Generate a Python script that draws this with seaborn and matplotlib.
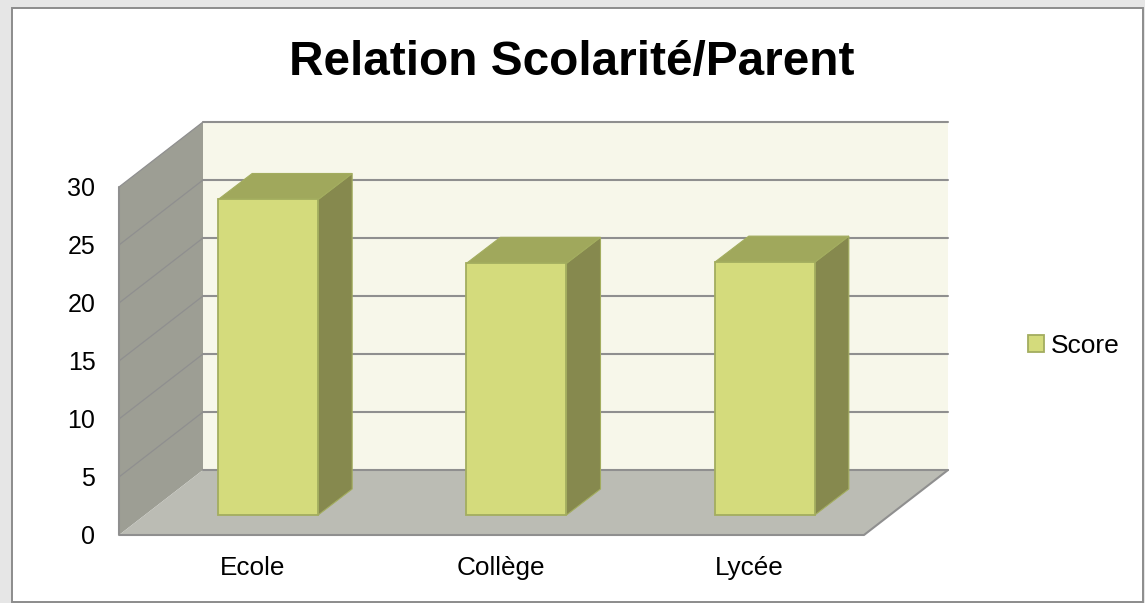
import matplotlib
matplotlib.use("Agg")
import matplotlib.pyplot as plt
import matplotlib.transforms as mtrans
from matplotlib.patches import Rectangle
import pandas as pd
import seaborn as sns

categories = ["Ecole", "Collège", "Lycée"]
scores = [27.2, 21.7, 21.8]
y_ticks = [0, 5, 10, 15, 20, 25, 30]
series_name = "Score"
title_text = "Relation Scolarité/Parent"

W, H, DPI = 1145, 603, 100
AX_L, AX_R, AX_T, AX_B = 119, 864, 187, 535
sns.set_style("white")
plt.rcParams["font.family"] = ["Liberation Sans", "DejaVu Sans"]

fig = plt.figure(figsize=(W / DPI, H / DPI), dpi=DPI, facecolor="#e6e6e6")
fig.add_artist(Rectangle((12 / W, 1 - 602 / H), (1143 - 12) / W, (602 - 8) / H,
                         transform=fig.transFigure, facecolor="white",
                         edgecolor="#8c8c8c", linewidth=1.4, zorder=-1))
ax = fig.add_axes([AX_L / W, 1 - AX_B / H, (AX_R - AX_L) / W, (AX_B - AX_T) / H])
ax.set_facecolor("none")

px_x = 3 / (AX_R - AX_L)          # data units per pixel, horizontally
px_y = 30 / (AX_B - AX_T)         # data units per pixel, vertically
wall_dx, wall_dy = 84 * px_x, 65 * px_y
bar_dx, bar_dy = 34 * px_x, 26 * px_y
shift_x, shift_y = 25 * px_x, 20 * px_y
x0, x1, y0, y1 = -0.5, 2.5, 0, 30

WALL_BACK, WALL_LEFT, FLOOR = "#f7f7ea", "#9d9e94", "#bbbcb4"
LINE = "#8f8f8f"
FRONT, TOP, SIDE, EDGE = "#d4db7c", "#a0a85c", "#86894e", "#a3ad5f"

# walls and floor
ax.fill([x0 + wall_dx, x1 + wall_dx, x1 + wall_dx, x0 + wall_dx],
        [y0 + wall_dy, y0 + wall_dy, y1 + wall_dy, y1 + wall_dy],
        color=WALL_BACK, lw=0, clip_on=False, zorder=1)
ax.fill([x0, x0 + wall_dx, x0 + wall_dx, x0],
        [y0, y0 + wall_dy, y1 + wall_dy, y1],
        color=WALL_LEFT, lw=0, clip_on=False, zorder=1)
for t in y_ticks[1:]:
    ax.plot([x0, x0 + wall_dx], [t, t + wall_dy], color=LINE, lw=0.9,
            clip_on=False, zorder=2)
    ax.plot([x0 + wall_dx, x1 + wall_dx], [t + wall_dy, t + wall_dy], color=LINE,
            lw=1.5, clip_on=False, zorder=2)
ax.fill([x0, x1, x1 + wall_dx, x0 + wall_dx],
        [y0, y0, y0 + wall_dy, y0 + wall_dy],
        color=FLOOR, lw=0, clip_on=False, zorder=2)
ax.plot([x0 + wall_dx, x1 + wall_dx], [y0 + wall_dy] * 2, color=LINE, lw=1.5,
        clip_on=False, zorder=2.1)
ax.plot([x0, x0, x1, x1 + wall_dx], [y1, y0, y0, y0 + wall_dy], color=LINE, lw=1.5,
        clip_on=False, zorder=2.1)

# bars
df = pd.DataFrame({"cat": categories, "score": scores})
sns.barplot(data=df, x="cat", y="score", color=FRONT, saturation=1, width=100 * px_x,
            edgecolor=EDGE, linewidth=1.3, label=series_name, ax=ax, zorder=4, legend=False)
bar_patches = list(ax.containers[0])
move = mtrans.Affine2D().translate(shift_x, shift_y)
for p in bar_patches:
    p.set_transform(move + ax.transData)
    p.set_clip_on(False)
    xl, xr = p.get_x() + shift_x, p.get_x() + p.get_width() + shift_x
    yb, yt = p.get_y() + shift_y, p.get_y() + p.get_height() + shift_y
    ax.fill([xr, xr + bar_dx, xr + bar_dx, xr],
            [yb, yb + bar_dy, yt + bar_dy, yt],
            facecolor=SIDE, edgecolor=EDGE, lw=0.8, clip_on=False, zorder=3)
    ax.fill([xl, xr, xr + bar_dx, xl + bar_dx],
            [yt, yt, yt + bar_dy, yt + bar_dy],
            facecolor=TOP, edgecolor=EDGE, lw=0.8, clip_on=False, zorder=3)

# axes
ax.set_xlim(x0, x1)
ax.set_ylim(y0, y1)
ax.set_xlabel("")
ax.set_ylabel("")
ax.set_yticks(y_ticks)
label_shift = 9 * px_x
ax.set_xticks([i + label_shift for i in range(len(categories))], categories)
sns.despine(ax=ax, left=True, bottom=True)
ax.tick_params(axis="both", length=0, labelcolor="black")
ax.tick_params(axis="y", pad=17, labelsize=18)
ax.tick_params(axis="x", pad=15, labelsize=18.8)
ax.grid(False)

fig.text(572 / W, 1 - 58 / H, title_text, ha="center", va="center_baseline",
         fontsize=34.4, fontweight="bold", color="black")

ax.legend(handles=[bar_patches[0]], labels=[series_name], loc="center left",
          bbox_to_anchor=(1028 / W, 1 - 346 / H), bbox_transform=fig.transFigure,
          frameon=False, fontsize=19, labelcolor="black", borderpad=0, borderaxespad=0,
          handlelength=0.62, handleheight=0.62, handletextpad=0.25)

fig.savefig("out.png", dpi=DPI, facecolor=fig.get_facecolor())
